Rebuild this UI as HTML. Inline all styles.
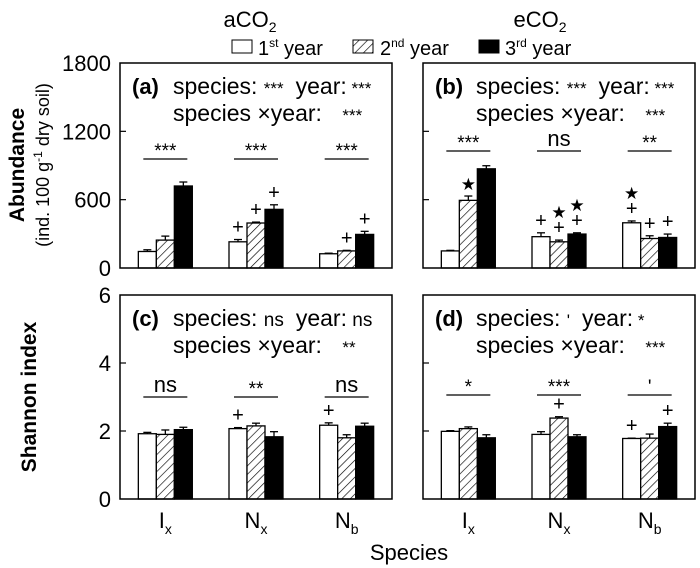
<!DOCTYPE html>
<html><head><meta charset="utf-8"><style>
html,body{margin:0;padding:0;background:#fff;}
svg{display:block;font-family:"Liberation Sans",Arial,sans-serif;}
</style></head><body>
<svg id="chart" width="700" height="568" viewBox="0 0 700 568" xmlns="http://www.w3.org/2000/svg">
<defs>
<pattern id="hatch" patternUnits="userSpaceOnUse" width="6" height="6" patternTransform="rotate(45)">
<rect width="6" height="6" fill="#fff"/><line x1="0" y1="0" x2="0" y2="6" stroke="#000" stroke-width="1.3"/>
</pattern>
</defs>
<text x="250" y="27" font-size="22" text-anchor="middle">aCO<tspan font-size="14" dy="5">2</tspan></text>
<text x="540" y="27" font-size="22" text-anchor="middle">eCO<tspan font-size="14" dy="5">2</tspan></text>
<g>
<rect x="232" y="40" width="20" height="13" fill="#fff" stroke="#000"/>
<text x="258" y="55" font-size="20">1<tspan font-size="12" dy="-8">st</tspan><tspan dy="8"> year</tspan></text>
<rect x="353" y="40" width="20" height="13" fill="url(#hatch)" stroke="#000"/>
<text x="380" y="55" font-size="20">2<tspan font-size="12" dy="-8">nd</tspan><tspan dy="8"> year</tspan></text>
<rect x="479" y="40" width="20" height="13" fill="#000" stroke="#000"/>
<text x="505" y="55" font-size="20">3<tspan font-size="12" dy="-8">rd</tspan><tspan dy="8"> year</tspan></text>
</g>
<text transform="translate(24,165) rotate(-90)" font-size="21" font-weight="bold" text-anchor="middle">Abundance</text>
<text transform="translate(49,165) rotate(-90)" font-size="18" text-anchor="middle">(ind. 100 g<tspan font-size="12" dy="-7">-1</tspan><tspan dy="7"> dry soil)</tspan></text>
<text transform="translate(36,397) rotate(-90)" font-size="21" font-weight="bold" text-anchor="middle">Shannon index</text>
<text x="409" y="560" font-size="22" text-anchor="middle">Species</text>
<g id="plots"></g>
</svg>
<script>
const categories = ["Ix","Nx","Nb"];
const abundTicks = [0,600,1200,1800];
const shannonTicks = [0,2,4,6];
const aVals = [[145,245,720],[230,395,515],[125,150,295]];
const aErr  = [[15,35,35],[20,8,40],[5,5,27]];
const bVals = [[150,594,871],[275,230,298],[397,259,268]];
const bErr  = [[5,38,27],[34,15,11],[16,24,30]];
const cVals = [[1.92,1.9,2.04],[2.07,2.15,1.83],[2.17,1.8,2.14]];
const cErr  = [[0.04,0.13,0.07],[0.03,0.08,0.15],[0.07,0.09,0.09]];
const dVals = [[1.99,2.07,1.8],[1.9,2.38,1.83],[1.78,1.79,2.13]];
const dErr  = [[0.02,0.05,0.09],[0.08,0.04,0.06],[0.01,0.12,0.1]];
const aSig = ["***","***","***"], bSig = ["***","ns","**"], cSig = ["ns","**","ns"], dSig = ["*","***","'"];
const aMarks = [["","",""],["+","+","+"],["","+","+"]];
const bMarks = [["","★",""],["+","★+","★+"],["★+","+","+"]];
const cMarks = [["","",""],["+","",""],["+","",""]];
const dMarks = [["","",""],["","+",""],["+","","+"]];

const NS="http://www.w3.org/2000/svg";
const root=document.getElementById('plots');
function mk(tag,attrs,parent){const e=document.createElementNS(NS,tag);for(const k in attrs)e.setAttribute(k,attrs[k]);(parent||root).appendChild(e);return e;}
const fills=["#fff","url(#hatch)","#000"];
const yrs=["1st","2nd","3rd"];
function ssz(s){return s==='ns'?19:17;}

function panel(o){
  const g=mk('g',{});
  
  
  const L=o.x0,R=o.x1,T=o.y0,B=o.y1,max=o.ticks[o.ticks.length-1];
  const y=v=>B-(v/max)*(B-T);
  const cw=(R-L)/3, x=i=>L+cw*(i+0.5), bw=18;
  o.ticks.forEach(t=>{
    if(t>0&&t<max){const tk=mk('line',{x1:L,x2:L+6,y1:y(t),y2:y(t),stroke:'#000','stroke-width':1.2},g);
      }
    if(o.labels){const tl=mk('text',{x:L-9,y:y(t)+8,'font-size':22,'text-anchor':'end'},g);tl.textContent=t;
      }
  });
  o.vals.forEach((row,i)=>{
    row.forEach((v,j)=>{
      const bx=x(i)-1.5*bw+j*bw;
      const top=y(v+o.err[i][j]);
      const el=mk('line',{x1:bx+bw/2,x2:bx+bw/2,y1:y(v),y2:top,stroke:'#000','stroke-width':1.3},g);
      
      const cap=mk('line',{x1:bx+bw/2-4,x2:bx+bw/2+4,y1:top,y2:top,stroke:'#000','stroke-width':1.3},g);
      
      const r=mk('rect',{x:bx,y:y(v),width:bw,height:B-y(v),fill:fills[j],stroke:'#000','stroke-width':1.3},g);
      
      
      const m=o.marks[i][j];
      if(m){let yy=top-6;
        const chars=[...m].reverse();
        chars.forEach(c=>{const t=mk('text',{x:bx+bw/2,y:yy,'font-size':c==='★'?17:20,'text-anchor':'middle'},g);t.textContent=c;
          yy-=16;});
      }
    });
    const sl=mk('line',{x1:x(i)-22,x2:x(i)+22,y1:o.sigY,y2:o.sigY,stroke:'#000','stroke-width':1.2},g);
    
    const s=o.sig[i];
    const st=mk('text',{x:x(i),y:s==='ns'?o.sigY-5:o.sigY-2,'font-size':s==='ns'?22:19,'text-anchor':'middle'},g);st.textContent=s;
    
    if(o.xlabels){const xl=mk('text',{x:x(i),y:528,'font-size':22,'text-anchor':'middle'},g);
      xl.innerHTML=categories[i][0]+'<tspan font-size="14" dy="6">'+categories[i][1]+'</tspan>';
      }
  });
  const fr=mk('rect',{x:L,y:T,width:R-L,height:B-T,fill:'none',stroke:'#000','stroke-width':1.5},g);
  
  const lab=mk('text',{x:L+12,y:T+31,'font-size':22,'font-weight':'bold'},g);lab.textContent='('+o.id+')';
  
  const h=mk('text',{x:L+53,y:T+31,'font-size':23},g);
  h.innerHTML='species: <tspan font-size="'+ssz(o.s1)+'">'+o.s1+'</tspan><tspan dx="12">year:</tspan><tspan font-size="'+ssz(o.s2)+'"> '+o.s2+'</tspan>';
  
  const h2=mk('text',{x:L+53,y:T+58,'font-size':23},g);
  h2.innerHTML='species ×year: <tspan dx="14" font-size="17">'+o.s3+'</tspan>';
  
}
panel({id:'a',x0:120,x1:392,y0:63,y1:268,ticks:abundTicks,labels:true,vals:aVals,err:aErr,sig:aSig,marks:aMarks,sigY:159,s1:'***',s2:'***',s3:'***'});
panel({id:'b',x0:423,x1:695,y0:63,y1:268,ticks:abundTicks,labels:false,vals:bVals,err:bErr,sig:bSig,marks:bMarks,sigY:151,s1:'***',s2:'***',s3:'***'});
panel({id:'c',x0:120,x1:392,y0:295,y1:499,ticks:shannonTicks,labels:true,vals:cVals,err:cErr,sig:cSig,marks:cMarks,sigY:397,s1:'ns',s2:'ns',s3:'**',xlabels:true});
panel({id:'d',x0:423,x1:695,y0:295,y1:499,ticks:shannonTicks,labels:false,vals:dVals,err:dErr,sig:dSig,marks:dMarks,sigY:395,s1:"'",s2:'*',s3:'***',xlabels:true});
</script>
</body></html>
